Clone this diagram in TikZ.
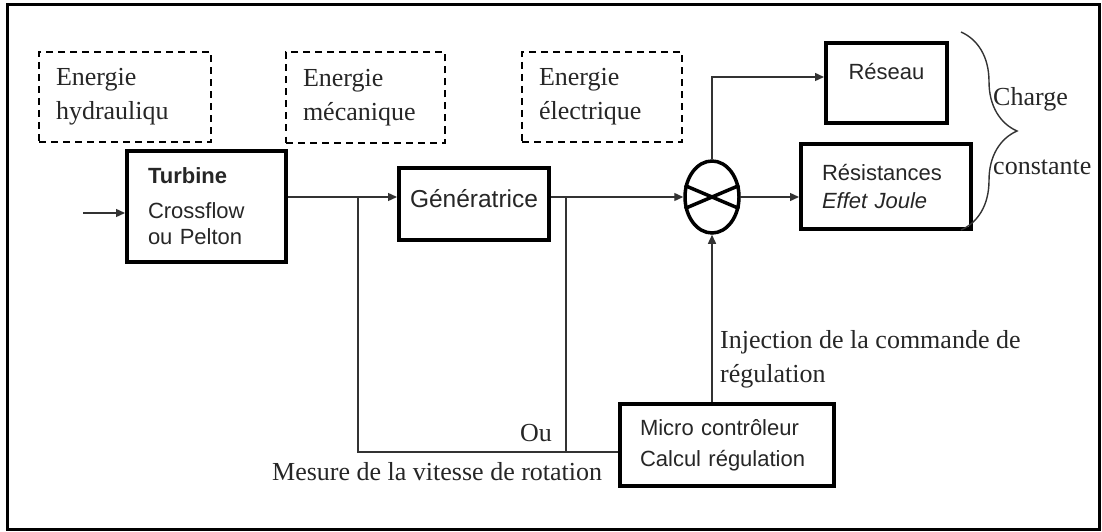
\documentclass[tikz,border=0pt]{standalone}
\usepackage{fontspec}
\setmainfont{Liberation Serif}
\setsansfont{Liberation Sans}
\usetikzlibrary{arrows.meta,shapes.geometric,decorations.pathreplacing}
\newcommand{\serifsz}{\fontsize{26}{34}\selectfont}
\newcommand{\sanssz}{\sffamily\fontsize{22}{26}\selectfont}

\begin{document}
\begin{tikzpicture}[x=1pt, y=-1pt, every node/.style={font=\serifsz, text=black!85, inner sep=0pt},
  block/.style={draw, line width=4pt, font=\sanssz},
  energy/.style={draw, line width=2pt, dash pattern=on 7pt off 5pt, inner xsep=17pt, minimum height=90pt, align=left},
  sumjct/.style={draw, ellipse, line width=3.5pt, minimum width=54pt, minimum height=72pt},
  flow/.style={line width=1.4pt, black!80, -{Triangle[length=9pt,width=8pt]}},
  wire/.style={line width=1.4pt, black!80}]
  \useasboundingbox (0,0) rectangle (1102,532);
  \draw[line width=3pt] (7,5) rectangle (1099,529);
  % forms of energy
  \node[energy, text width=138pt] (hyd) at (125,97) {Energie\\hydrauliqu};
  \node[energy, text width=125pt] (mec) at (365.5,97.5) {Energie\\mécanique};
  \node[energy, text width=126pt] (ele) at (602,97) {Energie\\électrique};
  % main chain
  \node[block, minimum width=159pt, minimum height=111pt, text width=117pt, align=left] (turb) at (206.5,206.5) {\textbf{Turbine}\\[9pt]Crossflow\\ou Pelton};
  \node[block, minimum width=150pt, minimum height=72pt, text height=17.5pt, text depth=10pt, font=\sanssz\fontsize{24.5}{28}\selectfont] (gen) at (474,204) {Génératrice};
  \node[sumjct] (sum) at (712,197) {};
  \draw[line width=3.5pt] (sum.157) -- (sum.337) (sum.203) -- (sum.23);
  \node[block, minimum width=121pt, minimum height=80pt, text height=16pt, text depth=22pt] (grid) at (886.5,83) {Réseau};
  \node[block, minimum width=170pt, minimum height=85pt, text width=128pt, align=left, font=\sanssz\fontsize{22}{28}\selectfont] (joule) at (886,186.5) {Résistances\\\textit{Effet Joule}};
  \node[block, minimum width=214pt, minimum height=82pt, text width=174pt, align=left, font=\sanssz\fontsize{22}{31}\selectfont] (mcu) at (727,445) {Micro contrôleur\\Calcul régulation};
  \coordinate (src) at (83,213);
  \draw[flow] (src) -- (turb.west |- src);
  \draw[flow] (turb.east |- sum.west) -- (gen.west |- sum.west);
  \draw[flow] (gen.east |- sum.west) -- (sum.west);
  \draw[flow] (sum.north) |- ([yshift=6pt]grid.west);
  \draw[flow] (sum.east) -- (joule.west |- sum.east);
  \draw[flow] (mcu.north -| sum.south) -- (sum.south);
  % speed measurement
  \coordinate (tap1) at (358,197);
  \coordinate (tap2) at (566,197);
  \coordinate (fb) at (358,452);
  \draw[wire] (tap1) -- (fb) -- (mcu.west |- fb);
  \draw[wire] (tap2) -- (tap2 |- fb);
  % load brace
  \coordinate (bt) at (961,32);
  \coordinate (bb) at (961,230);
  \draw[wire, decorate, decoration={brace, amplitude=56pt}] (bt) -- (bb);
  % labels
  \node[anchor=west] (charge) at (993,99) {Charge};
  \node[anchor=west] (const) at (993,167) {constante};
  \node[anchor=west] (ou) at (520,433) {Ou};
  \node[anchor=west] (mes) at (272,472) {Mesure de la vitesse de rotation};
  \node[anchor=west, align=left] (inj) at (720,359) {Injection de la commande de\\régulation};
\end{tikzpicture}
\end{document}
